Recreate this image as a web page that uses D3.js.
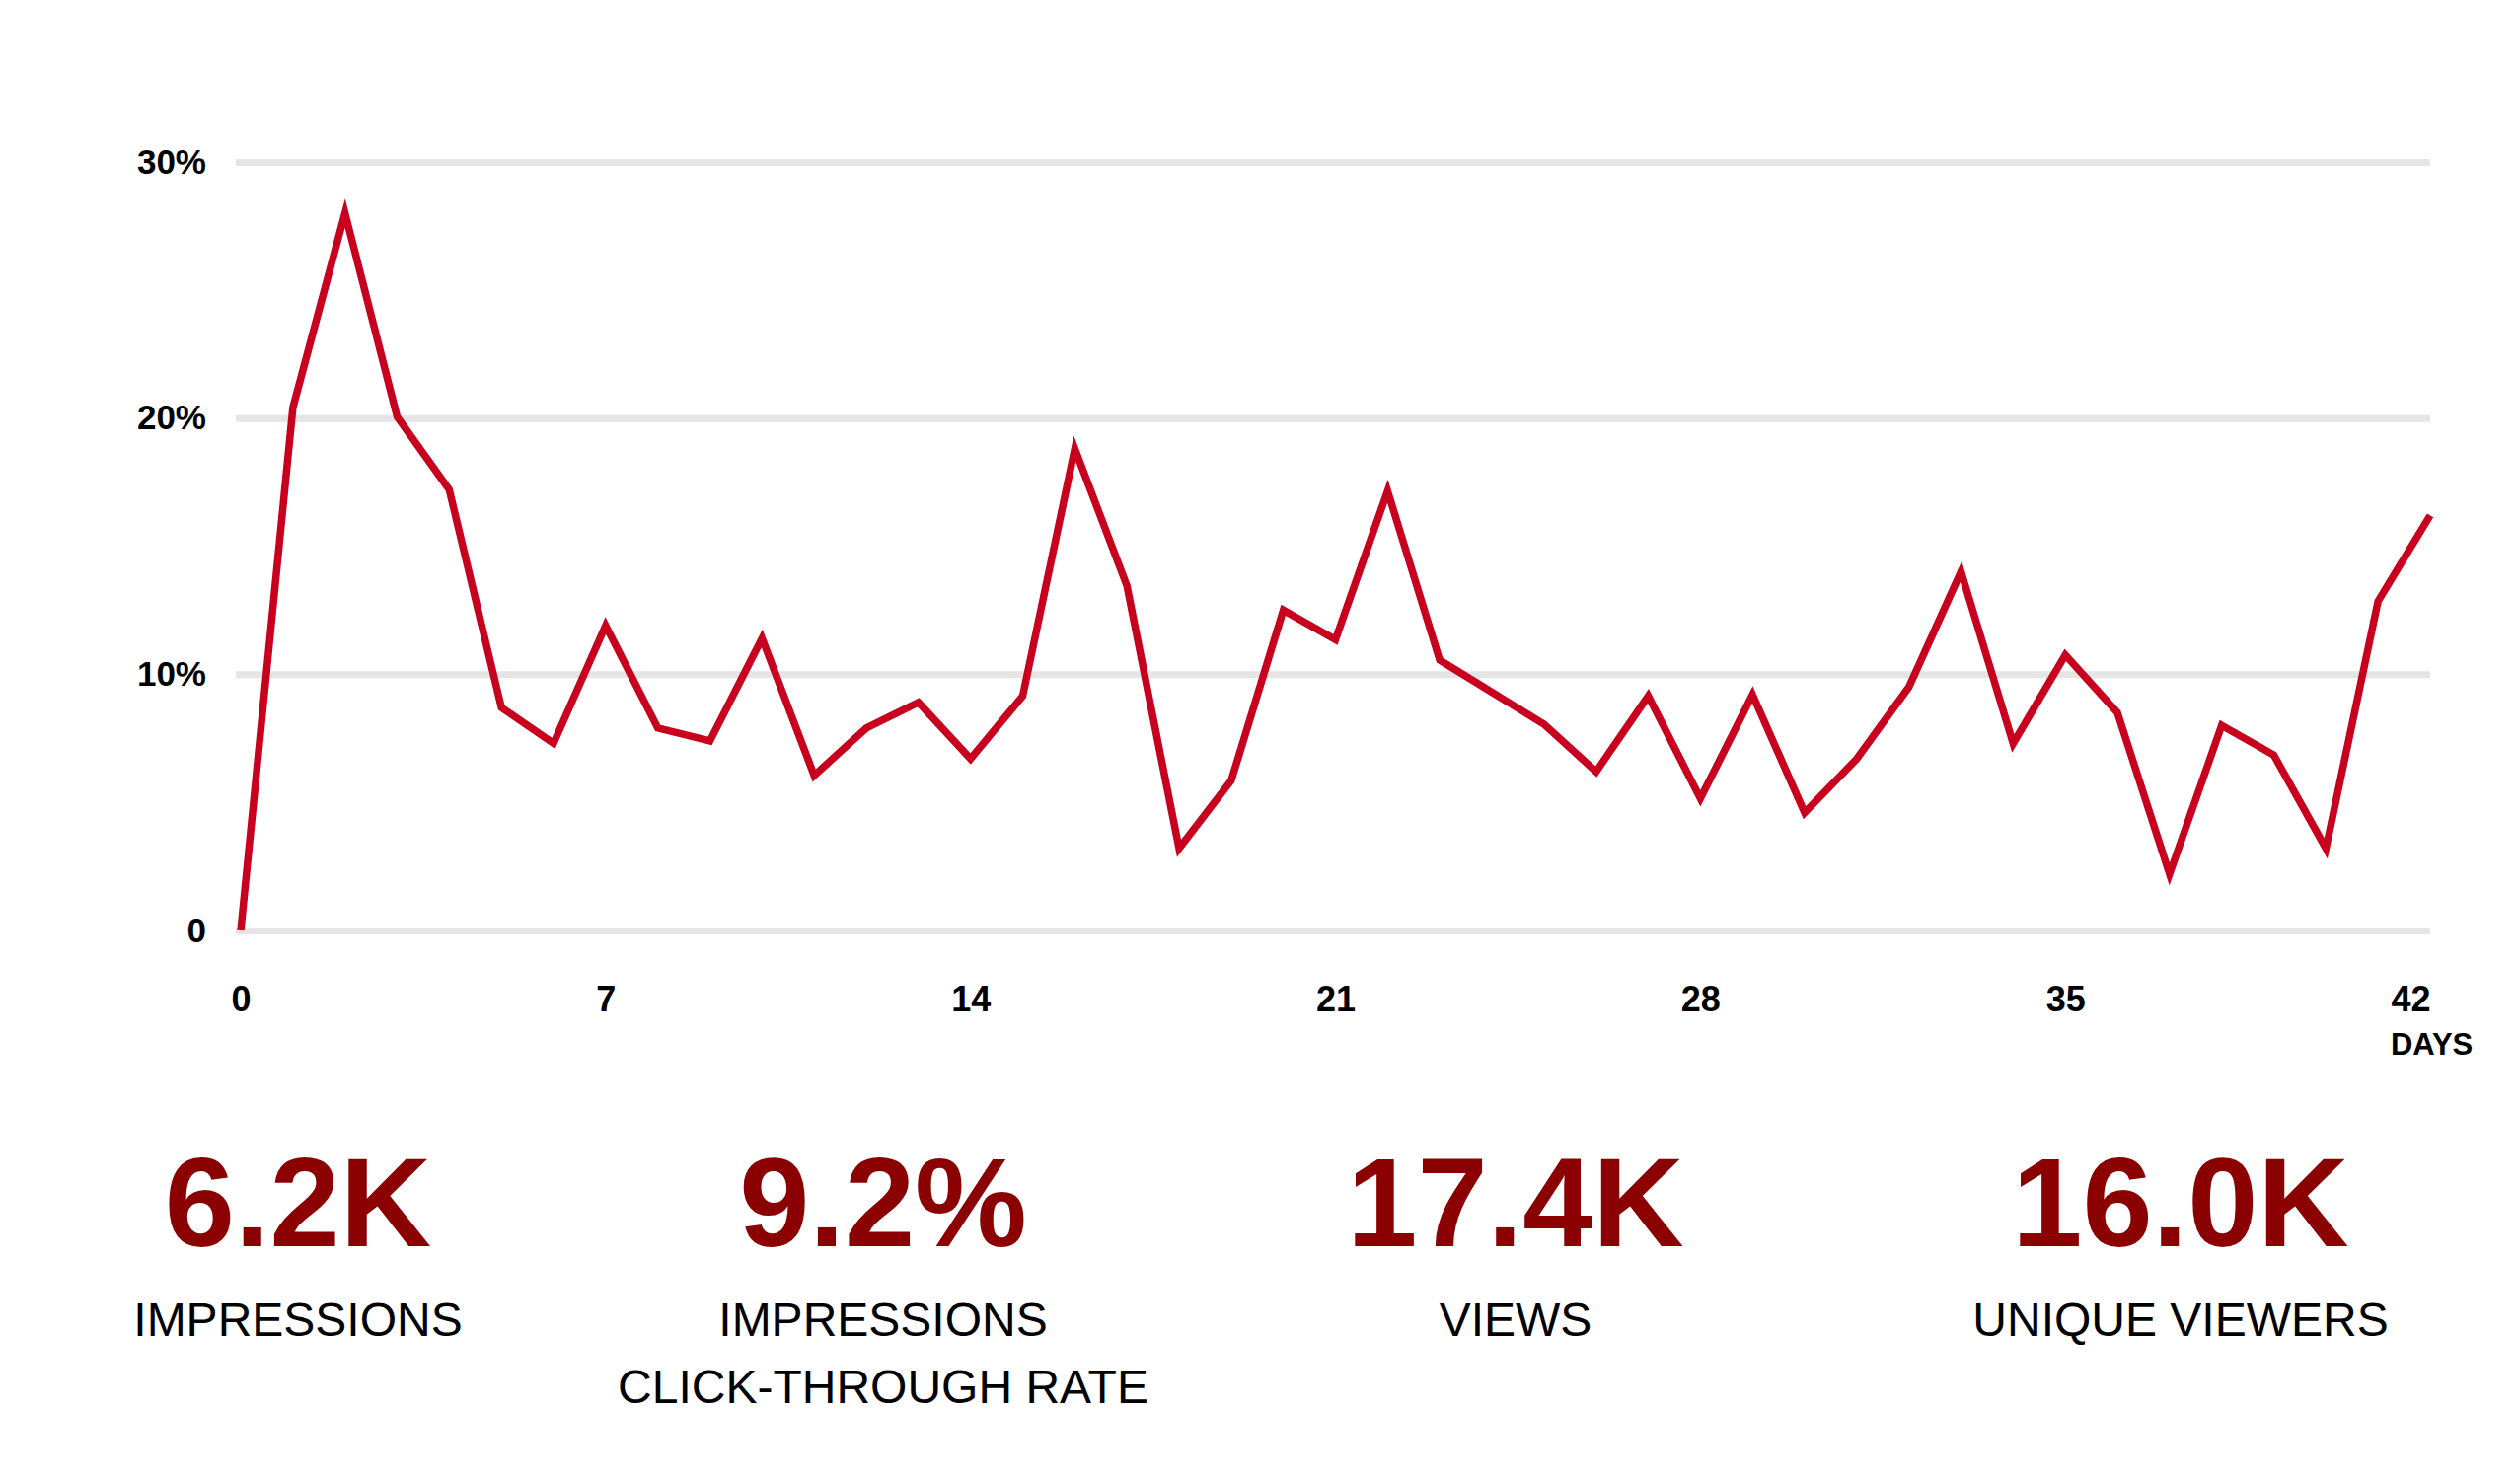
<!DOCTYPE html>
<html>
<head>
<meta charset="utf-8">
<script src="https://cdn.jsdelivr.net/npm/d3@7"></script>
<style>
  html, body { margin: 0; padding: 0; background: #fff; }
  svg { display: block; }
</style>
</head>
<body>
<div id="chart"></div>
<script>
// click-through rate per day, in percent (day = index)
const ctr = [
  0, 20.4, 28.0, 20.05, 17.2, 8.7, 7.3, 11.9, 7.9, 7.4,
  11.4, 6.05, 7.9, 8.9, 6.7, 9.15, 18.8, 13.45, 3.2, 5.85,
  12.5, 11.35, 17.15, 10.55, 9.3, 8.05, 6.2, 9.15, 5.15, 9.2,
  4.6, 6.7, 9.5, 14.0, 7.3, 10.75, 8.5, 2.2, 8.0, 6.85,
  3.2, 12.85, 16.2
];
const xTicks = [0, 7, 14, 21, 28, 35, 42];
const yTicks = [0, 10, 20, 30];
const xLabel = "DAYS";

// summary figures under the chart
const statValues = ["6.2K", "9.2%", "17.4K", "16.0K"];
const statLabels = [["IMPRESSIONS"], ["IMPRESSIONS", "CLICK-THROUGH RATE"], ["VIEWS"], ["UNIQUE VIEWERS"]];

(function() {
  let width = 2551, height = 1504;
  let left = 244, right = 2463, top = 164, bottom = 943;

  let svg = d3.select("#chart")
    .append("svg")
      .attr("width", width)
      .attr("height", height);

  svg.append("rect")
    .attr("width", width)
    .attr("height", height)
    .attr("fill", "#fff");

  let x = d3.scaleLinear()
      .domain([0, 42])
      .range([left, right]);

  let y = d3.scaleLinear()
      .domain([0, 30])
      .range([bottom, top]);

  // Y axis with gridlines
  let gridStart = left - 5;
  let yAxis = svg.append("g")
      .attr("transform", "translate(" + gridStart + ",0)")
      .call(d3.axisLeft(y)
        .tickValues(yTicks)
        .tickSize(-(right - gridStart))
        .tickPadding(30)
        .tickFormat(d => d === 0 ? "0" : d + "%"));
  yAxis.select(".domain").remove();
  yAxis.selectAll(".tick line")
      .attr("stroke", "#e5e5e5")
      .attr("stroke-width", 7);
  yAxis.selectAll(".tick text")
      .attr("fill", "#000")
      .style("font-family", "'Liberation Sans', Arial, sans-serif")
      .style("font-weight", "bold")
      .style("font-size", "35px");

  // X axis
  let xAxis = svg.append("g")
      .attr("transform", "translate(0," + bottom + ")")
      .call(d3.axisBottom(x)
        .tickValues(xTicks)
        .tickSize(0)
        .tickPadding(56));
  xAxis.select(".domain").remove();
  xAxis.selectAll(".tick text")
      .attr("fill", "#000")
      .style("font-family", "'Liberation Sans', Arial, sans-serif")
      .style("font-weight", "bold")
      .style("font-size", "36px");

  // last tick label sits left of its tick, DAYS under it
  let lastTick = xAxis.selectAll(".tick text").filter(d => d === 42);
  lastTick.attr("text-anchor", "end").attr("x", 0);
  let bb = lastTick.node().getBBox();

  svg.append("text")
      .attr("x", x(42) + bb.x)
      .attr("y", 1069)
      .attr("text-anchor", "start")
      .style("font-family", "'Liberation Sans', Arial, sans-serif")
      .style("font-weight", "bold")
      .style("font-size", "31px")
      .text(xLabel);

  // the line
  let line = d3.line()
      .x((d, i) => x(i))
      .y(d => y(d));

  svg.append("path")
      .datum(ctr)
      .attr("d", line)
      .attr("fill", "none")
      .attr("stroke", "#c8001e")
      .attr("stroke-width", 7.5)
      .attr("stroke-linejoin", "miter")
      .attr("stroke-miterlimit", 10);

  // summary block
  let statX = [302, 895, 1536, 2210];
  let stats = svg.append("g")
    .selectAll("g")
    .data(statValues)
    .enter()
    .append("g")
      .attr("transform", (d, i) => "translate(" + statX[i] + ",0)");

  stats.append("text")
      .attr("y", 1263)
      .attr("text-anchor", "middle")
      .attr("fill", "#8b0000")
      .style("font-family", "'Liberation Sans', Arial, sans-serif")
      .style("font-weight", "bold")
      .style("font-size", "128px")
      .text(d => d);

  stats.each(function(d, i) {
    d3.select(this).selectAll("text.label")
      .data(statLabels[i])
      .enter()
      .append("text")
        .attr("class", "label")
        .attr("y", (t, j) => 1354 + j * 68)
        .attr("text-anchor", "middle")
        .attr("fill", "#000")
        .style("font-family", "'Liberation Sans', Arial, sans-serif")
        .style("font-size", "48px")
        .text(t => t);
  });
})();
</script>
</body>
</html>
